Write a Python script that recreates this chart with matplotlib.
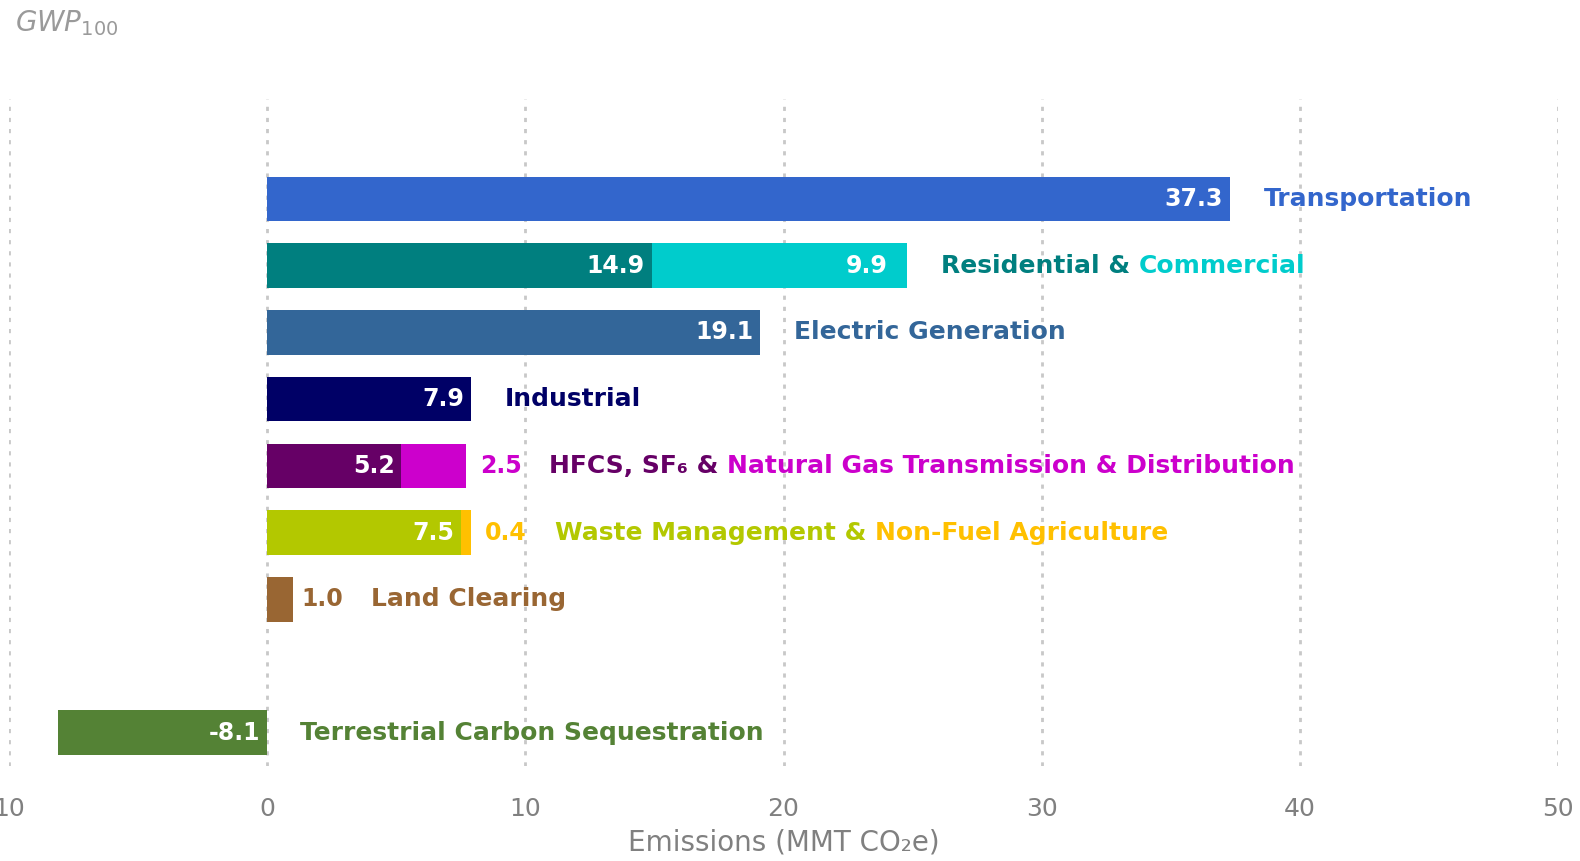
import matplotlib.pyplot as plt
from matplotlib.ticker import FuncFormatter

sectors = ["Transportation", "Residential & Commercial", "Electric Generation", "Industrial",
           "HFCS, SF6 & Natural Gas T&D", "Waste Management & Non-Fuel Agriculture",
           "Land Clearing", "Terrestrial Carbon Sequestration"]
rows = [0, 1, 2, 3, 4, 5, 6, 8]
first_values = [37.3, 14.9, 19.1, 7.9, 5.2, 7.5, 1.0, -8.1]
second_values = [0, 9.9, 0, 0, 2.5, 0.4, 0, 0]
first_colors = ["#3366cc", "#007f7f", "#336699", "#000066", "#660066", "#b3c800", "#996633", "#548235"]
second_colors = [None, "#00cccc", None, None, "#cc00cc", "#ffc000", None, None]
# label pieces (text, colour) per row
label_parts = [
    [("Transportation", "#3366cc")],
    [("Residential & ", "#007f7f"), ("Commercial", "#00cccc")],
    [("Electric Generation", "#336699")],
    [("Industrial", "#000066")],
    [("HFCS, SF₆ & ", "#660066"), ("Natural Gas Transmission & Distribution", "#cc00cc")],
    [("Waste Management & ", "#b3c800"), ("Non-Fuel Agriculture", "#ffc000")],
    [("Land Clearing", "#996633")],
    [("Terrestrial Carbon Sequestration", "#548235")],
]

plt.rcParams['font.family'] = ['DejaVu Sans']
fig = plt.figure(figsize=(15.8, 8.61), dpi=100)
ax = fig.add_axes([9 / 1580, 95 / 861, 1549 / 1580, 667 / 861])

bar_h = 0.67
ax.barh(rows, first_values, height=bar_h, color=first_colors, zorder=3)
ax.barh(rows, second_values, left=first_values, height=bar_h,
        color=[c if c else "none" for c in second_colors], zorder=3)

ax.set_xlim(-10, 50)
ax.set_ylim(8.5, -1.5)
ax.set_xticks(range(-10, 51, 10))
ax.xaxis.set_major_formatter(FuncFormatter(lambda v, p: f"{abs(v):.0f}"))
ax.set_yticks([])
ax.grid(axis='x', color="#c8c8c8", linestyle=(0, (1.5, 2.5)), linewidth=2, zorder=0)
for s in ax.spines.values():
    s.set_visible(False)
ax.tick_params(axis='x', length=0, labelsize=18, labelcolor="#808080", pad=22)
ax.set_xlabel("Emissions (MMT CO₂e)", fontsize=20, color="#808080", labelpad=6)

fig.text(15 / 1580, 1 - 23 / 861, "$\\mathit{GWP}_{\\mathit{100}}$", fontsize=20,
         color="#9a9a9a", va='center', ha='left')

fs = 18
vs = 17
for r, v1, v2, c1, c2, parts in zip(rows, first_values, second_values, first_colors,
                                    second_colors, label_parts):
    end = max(v1 + v2, 0)
    anchor = None
    inner_x = v1 if v1 > 0 else 0
    if abs(v1) >= 2:
        ax.annotate(f"{v1:.1f}", xy=(inner_x, r), xytext=(-5, 0), textcoords='offset points',
                    ha='right', va='center', color='white', fontsize=vs, fontweight='bold', zorder=4)
    else:
        anchor = ax.annotate(f"{v1:.1f}", xy=(end, r), xytext=(6, 0), textcoords='offset points',
                             ha='left', va='center', color=c1, fontsize=vs, fontweight='bold')
    if v2 > 0:
        if v2 >= 2 and c2 == "#00cccc":
            ax.annotate(f"{v2:.1f}", xy=(v1 + v2, r), xytext=(-14, 0), textcoords='offset points',
                        ha='right', va='center', color='white', fontsize=vs, fontweight='bold', zorder=4)
        else:
            anchor = ax.annotate(f"{v2:.1f}", xy=(end, r), xytext=(10, 0), textcoords='offset points',
                                 ha='left', va='center', color=c2, fontsize=vs, fontweight='bold')
    prev = None
    for txt, col in parts:
        if prev is None:
            if anchor is not None:
                prev = ax.annotate(txt, xy=(1, 0), xycoords=anchor, xytext=(20, 0),
                                   textcoords='offset points', ha='left', va='bottom',
                                   color=col, fontsize=fs, fontweight='bold')
            else:
                prev = ax.annotate(txt, xy=(end, r), xytext=(24, 0), textcoords='offset points',
                                   ha='left', va='center', color=col, fontsize=fs, fontweight='bold')
        else:
            prev = ax.annotate(txt, xy=(1, 0), xycoords=prev, ha='left', va='bottom',
                               color=col, fontsize=fs, fontweight='bold')

fig.savefig("out.png", dpi=100)
